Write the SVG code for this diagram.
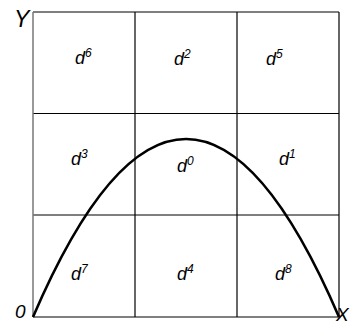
<svg xmlns="http://www.w3.org/2000/svg" width="353" height="326" viewBox="0 0 353 326">
<style>
.grid{stroke:#000;stroke-width:1.2;fill:none}
.axis{stroke:#777;stroke-width:1.5;fill:none}
.curve{stroke:#000;stroke-width:2.6;fill:none}
.lbl{font-family:"Liberation Sans",Arial,sans-serif;font-style:italic;font-size:18px;fill:#000}
.sup{font-size:12px}
.ax{font-family:"Liberation Sans",Arial,sans-serif;font-style:italic;font-size:23px;fill:#000}
</style>
<rect width="353" height="326" fill="#fff"/>
<g id="grid">
<line class="grid" x1="33" y1="12" x2="339" y2="12"/>
<line class="grid" x1="33" y1="113.5" x2="339" y2="113.5"/>
<line class="grid" x1="33" y1="215" x2="339" y2="215"/>
<line class="grid" x1="33" y1="317" x2="339" y2="317"/>
<line class="grid" x1="135" y1="12" x2="135" y2="317"/>
<line class="grid" x1="237" y1="12" x2="237" y2="317"/>
<line class="grid" x1="339" y1="12" x2="339" y2="317"/>
<line class="axis" x1="33" y1="12" x2="33" y2="317"/>
</g>
<g id="connectors">
<path class="curve" d="M33,317 Q186,-39 339,317"/>
</g>
<g id="d6"><text class="lbl" x="75" y="64">d<tspan class="sup" dy="-7">6</tspan></text></g>
<g id="d2"><text class="lbl" x="174" y="65">d<tspan class="sup" dy="-7">2</tspan></text></g>
<g id="d5"><text class="lbl" x="266" y="65">d<tspan class="sup" dy="-7">5</tspan></text></g>
<g id="d3"><text class="lbl" x="71" y="165">d<tspan class="sup" dy="-7">3</tspan></text></g>
<g id="d0"><text class="lbl" x="177" y="172">d<tspan class="sup" dy="-7">0</tspan></text></g>
<g id="d1"><text class="lbl" x="279" y="165">d<tspan class="sup" dy="-7">1</tspan></text></g>
<g id="d7"><text class="lbl" x="71" y="280">d<tspan class="sup" dy="-7">7</tspan></text></g>
<g id="d4"><text class="lbl" x="177" y="280">d<tspan class="sup" dy="-7">4</tspan></text></g>
<g id="d8"><text class="lbl" x="275" y="280">d<tspan class="sup" dy="-7">8</tspan></text></g>
<g id="axes-labels">
<text class="ax" x="14" y="27">Y</text>
<text class="ax" x="15" y="318" style="font-size:19px">0</text>
<text class="ax" x="336" y="321" style="font-size:19px">X</text>
</g>
</svg>
